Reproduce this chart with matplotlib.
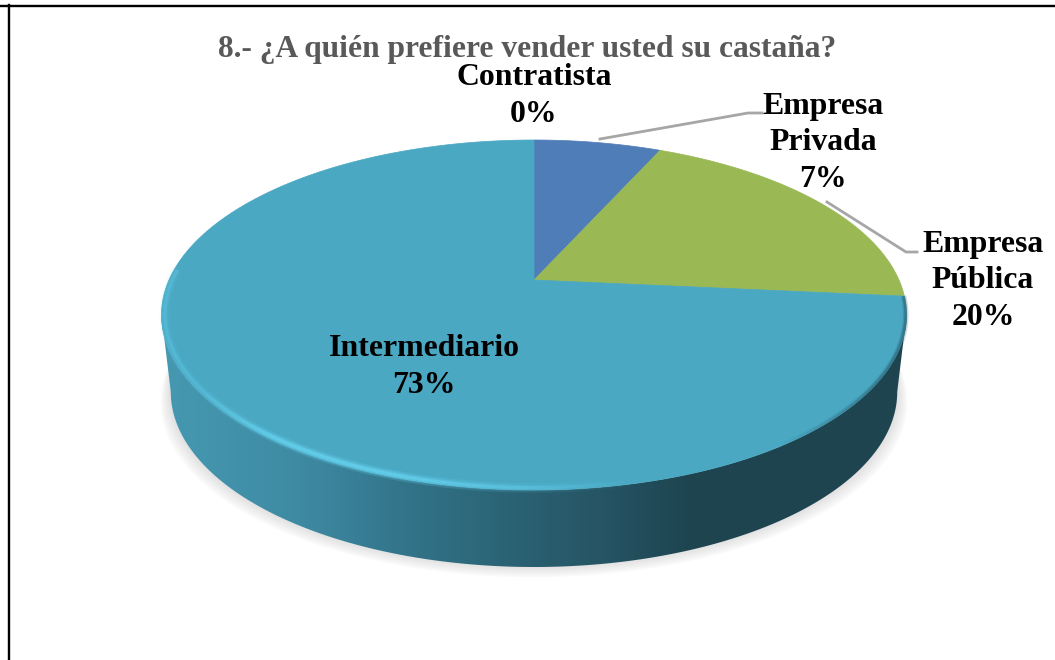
import numpy as np
import matplotlib
matplotlib.use('Agg')
import matplotlib.pyplot as plt
from matplotlib.collections import LineCollection
from matplotlib.colors import to_rgb
from matplotlib.patches import Polygon

## Data
categories = ['Contratista', 'Empresa\nPrivada', 'Empresa\nPública', 'Intermediario']
percent_labels = ['0%', '7%', '20%', '73%']
# slice sizes as drawn, measured from the wedge edges
values = [0, 6.7, 19.8, 73.5]
slice_colors = ['#3f6fa8', '#4f7db8', '#9ab955', '#4aa8c3']
title = '8.- ¿A quién prefiere vender usted su castaña?'

## Perspective of the tilted pie, in pixels
CX, CY = 534, 280
A, B, K = 365, 168, 0.2
DEPTH = 77
BOTTOM_SCALE = 0.975


def project(theta, r=1.0):
    # theta is clockwise from the top, in radians
    u = r * np.sin(theta)
    v = r * np.cos(theta)
    w = 1 + K * v
    return CX + A * u / w, CY - B * v / w


def rim_segments(t0, t1, r):
    t = np.linspace(t0, t1, 300)
    rx, ry = project(t, r)
    pts = np.c_[rx, ry]
    return np.stack([pts[:-1], pts[1:]], axis=1), (rx[:-1] + rx[1:]) / 2


plt.rcParams['font.family'] = ['Liberation Serif', 'DejaVu Serif']
fig = plt.figure(figsize=(10.55, 6.6), dpi=100)
ax = fig.add_axes([0, 0, 1, 1])

## Frame, only top and left sides are visible
ax.plot([0, 1055], [4.8, 4.8], color='#a0a0a0', lw=0.8)
ax.plot([0, 1055], [6.2, 6.2], color='black', lw=1.7)
ax.plot([7.6, 7.6], [5, 660], color='#a0a0a0', lw=0.8)
ax.plot([9, 9], [5, 660], color='black', lw=1.7)

ring = np.linspace(0, 2 * np.pi, 721)
top_x, top_y = project(ring)
bottom_x = CX + (top_x - CX) * BOTTOM_SCALE
bottom_y = top_y + DEPTH

## Soft shadow below the pie
for grow in range(14, 0, -2):
    sx = CX + (bottom_x - CX) * (1 + grow / 500)
    sy = bottom_y + grow * 0.8 - 1
    ax.add_patch(Polygon(np.c_[sx, sy], closed=True, fc='#909090', ec='none', alpha=0.04, zorder=2))

## Side wall with a horizontal gradient, clipped to the body outline
left = np.argmin(top_x)
right = np.argmax(top_x)
lower = np.arange(right, left + 1)
outline = np.r_[np.c_[top_x[lower[::-1]], top_y[lower[::-1]]],
                np.c_[bottom_x[lower], bottom_y[lower]]]
stops_x = [160, 300, 400, 500, 600, 690, 910]
stops_c = ['#4699b2', '#3e8aa3', '#33758b', '#2b6476', '#265565', '#1e4450', '#1e4450']
xs = np.arange(160, 911)
grad = np.array([np.interp(xs, stops_x, [to_rgb(c)[i] for c in stops_c]) for i in range(3)]).T
img = ax.imshow(grad[np.newaxis, :, :], extent=(160, 910, 600, 300), aspect='auto', zorder=3)
clip = Polygon(outline, closed=True, transform=ax.transData, fc='none', ec='none')
ax.add_patch(clip)
img.set_clip_path(clip)

## Pie top, one wedge per value
edges = np.cumsum([0] + values) / sum(values) * 2 * np.pi
for start, stop, color in zip(edges[:-1], edges[1:], slice_colors):
    if stop <= start:
        continue
    t = np.linspace(start, stop, 300)
    px, py = project(t)
    ax.fill(np.r_[CX, px], np.r_[CY, py], color=color, lw=0.5, zorder=4)

## Rim highlight: soft and bright on the lower left
for width, r, strength in [(7, 0.992, 0.25), (4.5, 0.992, 0.4), (2.2, 0.991, 0.75)]:
    segs, mid = rim_segments(np.pi * 0.9, np.pi * 1.52, r)
    glow = np.clip((640 - mid) / 250, 0, 1) * np.clip((mid - 160) / 120, 0.35, 1)
    rim = np.zeros((len(mid), 4))
    rim[:, :3] = to_rgb('#66d2ee')
    rim[:, 3] = glow * strength
    ax.add_collection(LineCollection(segs, colors=rim, linewidths=width, zorder=5))

## Dark soft edge where the top meets the shaded wall on the right
for width, strength in [(4, 0.2), (2, 0.35)]:
    segs, mid = rim_segments(np.pi * 0.53, np.pi * 0.85, 0.998)
    dark = np.zeros((len(mid), 4))
    dark[:, :3] = to_rgb('#1e4450')
    dark[:, 3] = np.clip((mid - 780) / 110, 0, 1) * strength
    ax.add_collection(LineCollection(segs, colors=dark, linewidths=width, zorder=5))

## Leader lines
ax.plot([600, 748, 762], [139, 113, 113], color='#a6a6a6', lw=2, zorder=6)
ax.plot([827, 906, 917], [202, 252, 252], color='#a6a6a6', lw=2, zorder=6)

## Title and labels
ax.text(527.5, 50, title, color='#595959', fontsize=22.7, fontweight='bold', ha='center', va='center', zorder=7)
label_pos = [(534, 96), (823, 143), (983, 281), (424, 367)]
for name, pct, (lx, ly) in zip(categories, percent_labels, label_pos):
    ax.text(lx, ly, f'{name}\n{pct}', color='black', fontsize=22.9, fontweight='bold',
            ha='center', va='center', linespacing=1.32, zorder=7)

ax.set_xlim(0, 1055)
ax.set_ylim(660, 0)
ax.axis('off')
fig.savefig('out.png', dpi=100, facecolor='white')
